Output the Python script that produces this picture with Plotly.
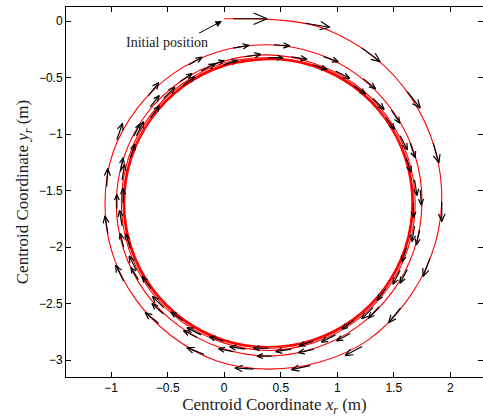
import plotly.graph_objects as go

# ---- trajectory, loop by loop ----
loopA_x = [0.0, 0.2, 0.39, 0.65, 0.891, 1.328, 1.660, 1.864, 1.925, 1.831, 1.604, 1.272, 0.847, 0.39, -0.064, -0.466, -0.783, -0.989, -1.055, -0.984, -0.767, -0.445, -0.046]
loopA_y = [0.02, 0.02, 0.015, -0.01, -0.069, -0.320, -0.687, -1.131, -1.61, -2.078, -2.492, -2.824, -3.018, -3.08, -3.008, -2.787, -2.463, -2.058, -1.61, -1.163, -0.769, -0.461, -0.269]
loopB_x = [0.39, 0.820, 1.201, 1.498, 1.688, 1.75, 1.679, 1.482, 1.184, 0.807, 0.39, -0.027, -0.401, -0.698, -0.889, -0.955, -0.884, -0.690, -0.389, -0.016]
loopB_y = [-0.21, -0.288, -0.494, -0.805, -1.188, -1.61, -2.029, -2.404, -2.702, -2.894, -2.965, -2.894, -2.698, -2.401, -2.026, -1.61, -1.196, -0.825, -0.538, -0.359]
loopC_x = [0.39, 0.792, 1.154, 1.442, 1.626, 1.69, 1.626, 1.442, 1.154, 0.792, 0.39, -0.012, -0.374, -0.662, -0.846, -0.91, -0.846, -0.662, -0.374, -0.012]
loopC_y = [-0.30, -0.374, -0.558, -0.846, -1.208, -1.61, -2.012, -2.374, -2.662, -2.846, -2.915, -2.846, -2.662, -2.374, -2.012, -1.61, -1.208, -0.846, -0.558, -0.374]
loopD_x = [0.39, 0.787, 1.146, 1.430, 1.612, 1.675, 1.612, 1.430, 1.146, 0.787, 0.39, -0.007, -0.366, -0.650, -0.832, -0.895, -0.832, -0.650, -0.366, -0.007]
loopD_y = [-0.325, -0.388, -0.570, -0.854, -1.213, -1.61, -2.007, -2.366, -2.650, -2.832, -2.895, -2.832, -2.650, -2.366, -2.007, -1.61, -1.213, -0.854, -0.570, -0.388]
loopE_x = [0.39, 0.784, 1.140, 1.421, 1.603, 1.665, 1.603, 1.421, 1.140, 0.784, 0.39, -0.004, -0.360, -0.641, -0.823, -0.885, -0.823, -0.641, -0.360, -0.004]
loopE_y = [-0.335, -0.397, -0.579, -0.860, -1.216, -1.61, -2.004, -2.360, -2.641, -2.823, -2.885, -2.823, -2.641, -2.360, -2.004, -1.61, -1.216, -0.860, -0.579, -0.397]
loopF_x = [0.39, 0.782, 1.137, 1.417, 1.598, 1.66, 1.598, 1.417, 1.137, 0.782, 0.39, -0.002, -0.357, -0.637, -0.818, -0.88, -0.818, -0.637, -0.357, -0.002, 0.39]
loopF_y = [-0.34, -0.402, -0.583, -0.863, -1.218, -1.61, -2.002, -2.357, -2.637, -2.818, -2.88, -2.818, -2.637, -2.357, -2.002, -1.61, -1.218, -0.863, -0.583, -0.402, -0.34]

# ---- quiver arrows: base (x, y) and velocity (u, v) ----
arrow_x = [0.08, 0.72, 1.22, 1.62, 1.85, 1.925, 1.82, 1.56, 1.22, 0.76, 0.26, -0.18, -0.58, -0.89, -1.03, -1.04, -0.95, -0.67, -0.315, 0.08,
           0.44, 0.88, 1.23, 1.48, 1.645, 1.735, 1.73, 1.62, 1.37, 1.115, 0.79, 0.42, 0.08, -0.24, -0.54, -0.76, -0.89, -0.95, -0.92, -0.80, -0.655, -0.39, -0.12,
           0.186, 0.594, 0.985, 1.316, 1.557, 1.684, 1.684, 1.557, 1.316, 0.985, 0.594, 0.186, -0.205, -0.536, -0.777, -0.904, -0.904, -0.777, -0.536, -0.205,
           0.39, 0.787, 1.146, 1.430, 1.612, 1.675, 1.612, 1.430, 1.146, 0.787, 0.39, -0.007, -0.366, -0.650, -0.832, -0.895, -0.832, -0.650, -0.366, -0.007]
arrow_y = [0.02, -0.02, -0.24, -0.625, -1.08, -1.60, -2.10, -2.54, -2.88, -3.05, -3.08, -2.95, -2.675, -2.30, -1.88, -1.465, -1.05, -0.66, -0.39, -0.24,
           -0.21, -0.315, -0.51, -0.79, -1.08, -1.495, -1.85, -2.20, -2.53, -2.765, -2.905, -2.965, -2.925, -2.80, -2.59, -2.29, -2.0, -1.66, -1.335, -1.02, -0.76, -0.535, -0.39,
           -0.316, -0.316, -0.443, -0.684, -1.015, -1.406, -1.814, -2.205, -2.536, -2.777, -2.904, -2.904, -2.777, -2.536, -2.205, -1.814, -1.406, -1.015, -0.684, -0.443,
           -0.325, -0.388, -0.570, -0.854, -1.213, -1.61, -2.007, -2.366, -2.650, -2.832, -2.895, -2.832, -2.650, -2.366, -2.007, -1.61, -1.213, -0.854, -0.570, -0.388]
arrow_u = [0.30, 0.215, 0.16, 0.115, 0.05, 0.0, -0.06, -0.105, -0.15, -0.165, -0.165, -0.15, -0.12, -0.07, -0.025, 0.01, 0.05, 0.09, 0.12, 0.14,
           0.14, 0.13, 0.11, 0.075, 0.045, 0.01, -0.03, -0.065, -0.095, -0.12, -0.135, -0.13, -0.13, -0.12, -0.10, -0.065, -0.03, 0.0, 0.025, 0.055, 0.08, 0.105, 0.12,
           0.138, 0.138, 0.125, 0.099, 0.064, 0.022, -0.022, -0.064, -0.099, -0.125, -0.138, -0.138, -0.125, -0.099, -0.064, -0.022, 0.022, 0.064, 0.099, 0.125,
           0.13, 0.124, 0.105, 0.076, 0.040, 0.0, -0.040, -0.076, -0.105, -0.124, -0.13, -0.124, -0.105, -0.076, -0.040, 0.0, 0.040, 0.076, 0.105, 0.124]
arrow_v = [0.0, -0.035, -0.12, -0.145, -0.175, -0.175, -0.16, -0.13, -0.08, -0.035, 0.01, 0.06, 0.095, 0.14, 0.155, 0.16, 0.145, 0.115, 0.07, 0.025,
           -0.01, -0.045, -0.09, -0.115, -0.13, -0.135, -0.13, -0.12, -0.10, -0.065, -0.03, 0.0, 0.025, 0.06, 0.09, 0.11, 0.12, 0.125, 0.125, 0.11, 0.10, 0.07, 0.04,
           0.022, -0.022, -0.064, -0.099, -0.125, -0.138, -0.138, -0.125, -0.099, -0.064, -0.022, 0.022, 0.064, 0.099, 0.125, 0.138, 0.138, 0.125, 0.099, 0.064,
           0.0, -0.040, -0.076, -0.105, -0.124, -0.13, -0.124, -0.105, -0.076, -0.040, 0.0, 0.040, 0.076, 0.105, 0.124, 0.13, 0.124, 0.105, 0.076, 0.040]

x_ticks = [-1, -0.5, 0, 0.5, 1, 1.5, 2]
x_tick_labels = ["\u22121", "\u22120.5", "0", "0.5", "1", "1.5", "2"]
y_ticks = [0, -0.5, -1, -1.5, -2, -2.5, -3]
y_tick_labels = ["0", "\u22120.5", "\u22121", "\u22121.5", "\u22122", "\u22122.5", "\u22123"]

init_pos = (-0.02, 0.0)
init_tail = (-0.236, -0.115)
init_label = (-0.51, -0.19)

traj_x = loopA_x + loopB_x + loopC_x + loopD_x + loopE_x + loopF_x
traj_y = loopA_y + loopB_y + loopC_y + loopD_y + loopE_y + loopF_y

# quiver geometry (MATLAB style open arrow heads)
alpha, beta = 0.40, 0.42
qx, qy = [], []
for x, y, u, v in zip(arrow_x, arrow_y, arrow_u, arrow_v):
    tx, ty = x + u, y + v
    qx += [x, tx, None,
           tx - alpha * (u + beta * v), tx, tx - alpha * (u - beta * v), None]
    qy += [y, ty, None,
           ty - alpha * (v - beta * u), ty, ty - alpha * (v + beta * u), None]

fig = go.Figure()
fig.add_trace(go.Scatter(x=traj_x, y=traj_y, mode="lines",
                         line=dict(color="#ff0000", width=1.1, shape="spline", smoothing=1.0, simplify=False),
                         hoverinfo="skip", showlegend=False))
fig.add_trace(go.Scatter(x=qx, y=qy, mode="lines",
                         line=dict(color="black", width=1.2),
                         hoverinfo="skip", showlegend=False))

fig.add_annotation(x=init_pos[0], y=init_pos[1], ax=init_tail[0], ay=init_tail[1],
                   xref="x", yref="y", axref="x", ayref="y", text="",
                   showarrow=True, arrowhead=2, arrowsize=1.3, arrowwidth=1, arrowcolor="black")
fig.add_annotation(x=init_label[0], y=init_label[1], xref="x", yref="y",
                   text="Initial position", showarrow=False,
                   font=dict(family="Liberation Serif, serif", size=14, color="#222"))

axis_common = dict(showline=True, linecolor="black", linewidth=1, mirror="ticks",
                   ticks="inside", ticklen=5, tickcolor="black", showgrid=False,
                   zeroline=False, tickfont=dict(family="Liberation Sans, Arial, sans-serif", size=12, color="black"))

fig.update_xaxes(range=[-1.40, 2.29], tickvals=x_ticks, ticktext=x_tick_labels,
                 title=dict(text="Centroid Coordinate <i>x<sub>r</sub></i> (m)", standoff=3,
                            font=dict(family="Liberation Serif, serif", size=17, color="#222")),
                 **axis_common)
fig.update_yaxes(range=[-3.15, 0.124], tickvals=y_ticks, ticktext=y_tick_labels,
                 title=dict(text="Centroid Coordinate <i>y<sub>r</sub></i> (m)", standoff=5,
                            font=dict(family="Liberation Serif, serif", size=17, color="#222")),
                 **axis_common)

fig.update_layout(width=483, height=417, margin=dict(l=66, r=0, t=7, b=40, autoexpand=False),
                  paper_bgcolor="white", plot_bgcolor="white")

fig.write_html("out.html", config={"displayModeBar": False},
               post_script="document.body.style.margin='0';document.body.style.overflow='hidden';")
